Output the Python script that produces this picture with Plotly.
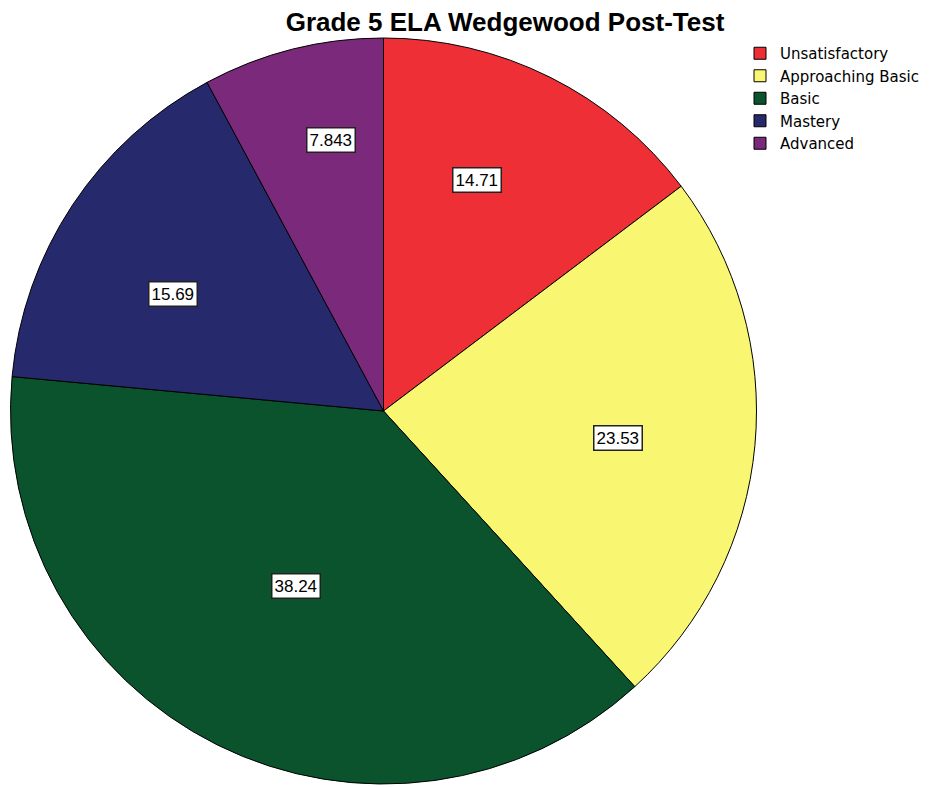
import math
import plotly.graph_objects as go

categories = ["Unsatisfactory", "Approaching Basic", "Basic", "Mastery", "Advanced"]
values = [14.71, 23.53, 38.24, 15.69, 7.843]
value_labels = ["14.71", "23.53", "38.24", "15.69", "7.843"]
colors = ["#EE3036", "#F9F772", "#0A532C", "#27296D", "#7B297B"]

# label placement (style): angular fraction within slice, radial fraction of radius
ang_frac = [0.417, 0.515, 0.50, 0.42, 0.61]
rad_frac = [0.668, 0.634, 0.525, 0.645, 0.74]

W, H = 931, 787
OFF = 8  # page body margin in the screenshot
px_left, px_right, px_top, px_bottom = 10 - OFF, 757 - OFF, 38 - OFF, 784 - OFF

fig = go.Figure()
fig.add_trace(go.Pie(
    labels=categories,
    values=values,
    sort=False,
    direction="clockwise",
    rotation=0,
    marker=dict(colors=colors, line=dict(color="#000000", width=1)),
    textinfo="none",
    hoverinfo="label+value",
    domain=dict(x=[px_left / W, px_right / W], y=[1 - px_bottom / H, 1 - px_top / H]),
))

cx = (px_left + px_right) / 2
cy = (px_top + px_bottom) / 2
r = min(px_right - px_left, px_bottom - px_top) / 2
total = sum(values)
cum = 0.0
for v, lab, af, rf in zip(values, value_labels, ang_frac, rad_frac):
    start = cum / total * 360
    span = v / total * 360
    theta = math.radians(start + af * span)
    x = cx + rf * r * math.sin(theta)
    y = cy - rf * r * math.cos(theta)
    fig.add_annotation(
        x=x / W, y=1 - y / H, xref="paper", yref="paper",
        xanchor="center", yanchor="middle",
        text=lab, showarrow=False,
        font=dict(family="Liberation Sans, Arial, sans-serif", size=17, color="#000000"),
        bgcolor="#FFFFFF", bordercolor="#222222", borderwidth=1.5, borderpad=2,
    )
    cum += v

fig.update_layout(
    width=W, height=H,
    margin=dict(l=0, r=0, t=0, b=0),
    paper_bgcolor="#FFFFFF",
    plot_bgcolor="#FFFFFF",
    title=dict(
        text="<b>Grade 5 ELA Wedgewood Post-Test</b>",
        x=(505 - OFF) / W, xanchor="center", y=1 - (22 - OFF) / H, yanchor="middle",
        font=dict(family="Liberation Sans, Arial, sans-serif", size=26, color="#000000"),
    ),
    legend=dict(
        x=(740 - OFF) / W, xanchor="left", y=1 - (37 - OFF) / H, yanchor="top",
        font=dict(family="DejaVu Sans, sans-serif", size=15, color="#000000"),
        traceorder="normal", tracegroupgap=0, itemwidth=30,
        bgcolor="rgba(0,0,0,0)",
    ),
)

fig.write_html("out.html")
